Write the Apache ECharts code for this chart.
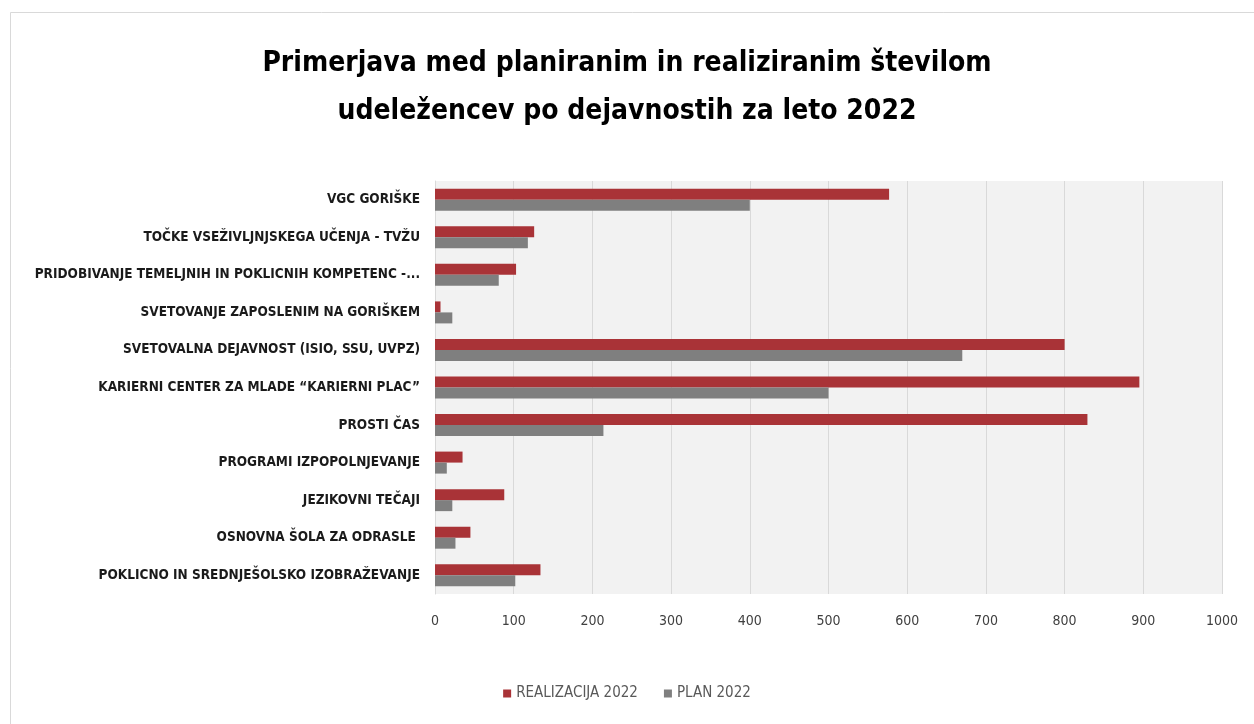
<!DOCTYPE html>
<html lang="sl">
<head>
  <meta charset="utf-8">
</head>
<body style="height: 100%; margin: 0">
  <div id="container" style="width: 1254px; height: 724px"></div>
  <script type="text/javascript" src="https://fastly.jsdelivr.net/npm/echarts@6/dist/echarts.min.js"></script>
  <script type="text/javascript">
    // kategorije od zgoraj navzdol
    const categories = [
      'VGC GORIŠKE',
      'TOČKE VSEŽIVLJNJSKEGA UČENJA - TVŽU',
      'PRIDOBIVANJE TEMELJNIH IN POKLICNIH KOMPETENC -...',
      'SVETOVANJE ZAPOSLENIM NA GORIŠKEM',
      'SVETOVALNA DEJAVNOST (ISIO, SSU, UVPZ)',
      'KARIERNI CENTER ZA MLADE “KARIERNI PLAC”',
      'PROSTI ČAS',
      'PROGRAMI IZPOPOLNJEVANJE',
      'JEZIKOVNI TEČAJI',
      'OSNOVNA ŠOLA ZA ODRASLE ',
      'POKLICNO IN SREDNJEŠOLSKO IZOBRAŽEVANJE'
    ];
    const realizacija2022 = [577, 126, 103, 7, 800, 895, 829, 35, 88, 45, 134];
    const plan2022 = [400, 118, 81, 22, 670, 500, 214, 15, 22, 26, 102];
    const xTicks = [0, 1000, 100]; // min, max, interval

    const font = '"Liberation Sans Narrow", "DejaVu Sans Condensed", sans-serif';

    var dom = document.getElementById('container');
    var myChart = echarts.init(dom, null, { renderer: 'canvas' });

    var option = {
      backgroundColor: '#fff',
      animation: false,
      title: {
        text: 'Primerjava med planiranim in realiziranim številom\nudeležencev po dejavnostih za leto 2022',
        left: 'center',
        top: 35,
        textStyle: {
          fontFamily: font,
          fontWeight: 'bold',
          fontSize: 28,
          lineHeight: 48,
          color: '#000'
        }
      },
      legend: {
        bottom: 18,
        left: 'center',
        itemWidth: 8,
        itemHeight: 8,
        itemGap: 26,
        icon: 'rect',
        textStyle: { fontFamily: font, fontSize: 15, color: '#595959' },
        data: ['REALIZACIJA 2022', 'PLAN 2022']
      },
      grid: {
        left: 435,
        right: 32,
        top: 181,
        height: 413,
        backgroundColor: '#f2f2f2',
        show: true,
        borderWidth: 0,
        outerBoundsMode: 'none',
        containLabel: false
      },
      xAxis: {
        type: 'value',
        min: xTicks[0],
        max: xTicks[1],
        interval: xTicks[2],
        axisLine: { show: false },
        axisTick: { show: false },
        axisLabel: {
          margin: 20,
          fontFamily: font,
          fontSize: 14,
          color: '#404040',
          formatter: function (v) { return String(v); }
        },
        splitLine: { lineStyle: { color: '#d9d9d9', width: 1 } }
      },
      yAxis: {
        type: 'category',
        inverse: true,
        data: categories,
        axisLine: { show: true, lineStyle: { color: '#d9d9d9' } },
        axisTick: { show: false },
        axisLabel: {
          margin: 15,
          fontFamily: font,
          fontWeight: 'bold',
          fontSize: 13.5,
          color: '#1a1a1a'
        }
      },
      series: [
        {
          name: 'REALIZACIJA 2022',
          type: 'bar',
          data: realizacija2022,
          barWidth: 11,
          barGap: '0%',
          itemStyle: { color: '#a93337' }
        },
        {
          name: 'PLAN 2022',
          type: 'bar',
          data: plan2022,
          barWidth: 11,
          barGap: '0%',
          itemStyle: { color: '#7f7f7f' }
        }
      ],
      graphic: [
        {
          type: 'rect',
          shape: { x: 10.5, y: 12.5, width: 1260, height: 740 },
          style: { fill: 'none', stroke: '#d9d9d9', lineWidth: 1 },
          silent: true
        }
      ]
    };

    myChart.setOption(option);
    window.addEventListener('resize', myChart.resize);
  </script>
</body>
</html>
